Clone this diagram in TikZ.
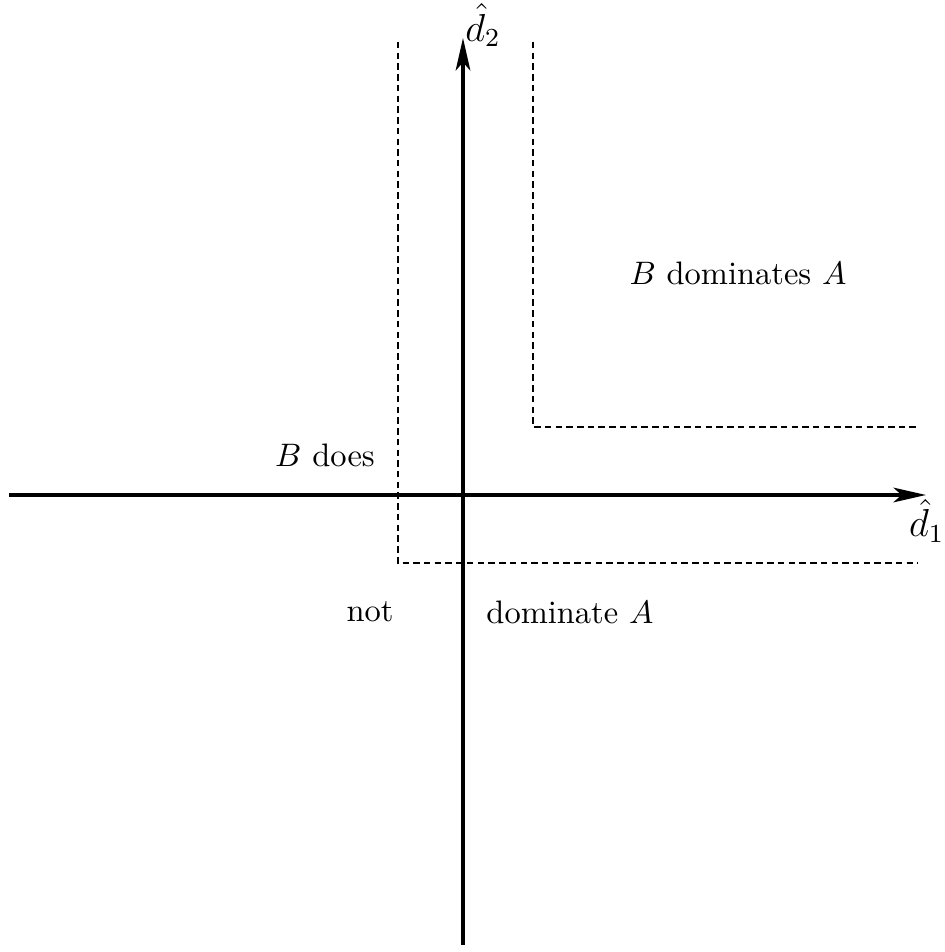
\documentclass[tikz,border=0pt]{standalone}
\usetikzlibrary{arrows.meta}
\tikzset{
  axis/.style={line width=1.1pt,-{Stealth[length=10pt,width=4.5pt,inset=2.5pt]}},
  bound/.style={line width=0.85pt,dash pattern=on 2pt off 1.3pt},
  region/.style={inner sep=0pt,font=\normalsize},
  axlabel/.style={inner sep=0pt,font=\large}
}

\begin{document}
\begin{tikzpicture}[x=0.3077pt,y=0.3077pt]
  \useasboundingbox (0,0) rectangle (945,952);
  % axes
  \coordinate (xl) at (9,457);
  \coordinate (xr) at (926,457);
  \coordinate (yb) at (463,7);
  \coordinate (yt) at (463,914);
  \draw[axis] (xl) -- (xr);
  \draw[axis] (yb) -- (yt);
  \node[axlabel,anchor=east] (d1) at (945,431) {$\hat{d}_1$};
  \node[axlabel,anchor=north] (d2) at (483,949) {$\hat{d}_2$};

  % dominance boundaries
  \coordinate (ut) at (533,910);
  \coordinate (uc) at (533,525);
  \coordinate (ur) at (918,525);
  \coordinate (lt) at (398,910);
  \coordinate (lc) at (398,389);
  \coordinate (lr) at (918,389);
  \draw[bound] (ut) -- (uc) -- (ur);
  \draw[bound] (lt) -- (lc) -- (lr);

  \node[region] (dom) at (738,679) {$B$ dominates $A$};
  \node[region] (does) at (325,497) {$B$ does};
  \node[region] (not) at (370,340) {not};
  \node[region] (domin) at (570,340) {dominate $A$};
\end{tikzpicture}
\end{document}
